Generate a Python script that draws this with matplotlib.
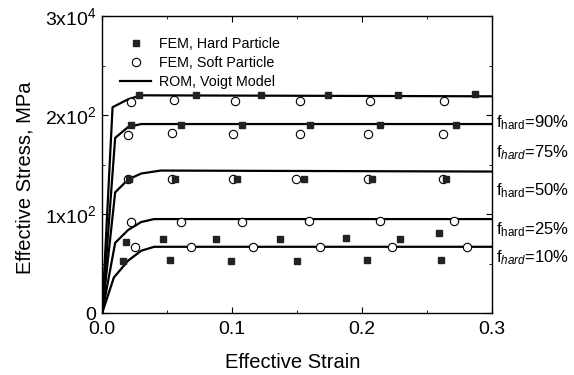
import numpy as np
import matplotlib.pyplot as plt
import matplotlib.transforms as mtransforms

plt.rcParams["font.family"] = ["Liberation Sans", "DejaVu Sans"]
plt.rcParams["mathtext.fontset"] = "custom"
plt.rcParams["mathtext.rm"] = "Liberation Sans"
plt.rcParams["mathtext.it"] = "Liberation Sans:italic"

# ROM (Voigt model) curves, one per hard-particle fraction
rom_strain = {
    "90": [0.0, 0.008, 0.02, 0.03, 0.3],
    "75": [0.0, 0.01, 0.02, 0.03, 0.3],
    "50": [0.0, 0.01, 0.02, 0.03, 0.045, 0.3],
    "25": [0.0, 0.01, 0.02, 0.03, 0.04, 0.3],
    "10": [0.0, 0.009, 0.02, 0.03, 0.04, 0.3],
}
rom_stress = {
    "90": [0, 208, 216, 220, 219],
    "75": [0, 177, 188, 191, 191],
    "50": [0, 122, 135, 141, 144, 143],
    "25": [0, 71, 84, 92, 95, 95],
    "10": [0, 36, 53, 63, 67, 67],
}

# FEM, hard particle
hard_strain = {
    "90": [0.028, 0.072, 0.122, 0.174, 0.228, 0.287],
    "75": [0.022, 0.061, 0.108, 0.160, 0.214, 0.272],
    "50": [0.021, 0.056, 0.104, 0.155, 0.208, 0.265],
    "25": [0.018, 0.047, 0.088, 0.137, 0.188, 0.229, 0.259],
    "10": [0.016, 0.052, 0.099, 0.150, 0.204, 0.261],
}
hard_stress = {
    "90": [220, 220, 220, 220, 220, 221],
    "75": [190, 190, 190, 190, 190, 190],
    "50": [135, 135, 135, 135, 135, 135],
    "25": [72, 75, 75, 75, 76, 75, 81],
    "10": [53, 54, 53, 53, 54, 54],
}

# FEM, soft particle
soft_strain = {
    "90": [0.022, 0.055, 0.102, 0.152, 0.206, 0.263],
    "75": [0.020, 0.054, 0.101, 0.152, 0.205, 0.262],
    "50": [0.020, 0.054, 0.101, 0.149, 0.205, 0.262],
    "25": [0.022, 0.061, 0.108, 0.159, 0.214, 0.271],
    "10": [0.025, 0.068, 0.116, 0.168, 0.223, 0.281],
}
soft_stress = {
    "90": [213, 215, 214, 214, 214, 214],
    "75": [180, 182, 181, 181, 181, 181],
    "50": [135, 135, 135, 135, 135, 135],
    "25": [92, 92, 92, 93, 93, 93],
    "10": [67, 67, 67, 67, 67, 67],
}

fractions = ["90", "75", "50", "25", "10"]
label_y = [192, 162, 124, 84, 56]
italic_sub = {"90": False, "75": True, "50": False, "25": False, "10": True}

fig = plt.figure(figsize=(5.74, 3.75), dpi=100)
ax = fig.add_axes([0.178, 0.165, 0.679, 0.792])

for i, f in enumerate(fractions):
    ax.plot(rom_strain[f], rom_stress[f], color="black", lw=1.6,
            label="ROM, Voigt Model" if i == 0 else None, zorder=2)
    ax.plot(soft_strain[f], soft_stress[f], "o", mfc="white", mec="black",
            mew=0.8, ms=6, label="FEM, Soft Particle" if i == 0 else None, zorder=3)
    ax.plot(hard_strain[f], hard_stress[f], "s", color="#222222",
            ms=4.5, label="FEM, Hard Particle" if i == 0 else None, zorder=4)

ax.set_xlim(0, 0.3)
ax.set_ylim(0, 300)
ax.set_xticks([0.0, 0.1, 0.2, 0.3])
ax.set_xticklabels(["0.0", "0.1", "0.2", "0.3"])
ax.set_xticks([0.05, 0.15, 0.25], minor=True)
ax.set_yticks([0, 100, 200, 300])
ax.set_yticklabels(["0", r"1x10$^2$", r"2x10$^2$", r"3x10$^4$"])
ax.set_yticks([50, 150, 250], minor=True)
ax.tick_params(which="both", direction="in", top=True, right=True, labelsize=14)
ax.tick_params(which="major", length=4)
ax.tick_params(which="minor", length=2)
ax.tick_params(axis="x", pad=6)
ax.tick_params(axis="y", pad=4)
for s in ax.spines.values():
    s.set_linewidth(1.0)

ax.set_xlabel("Effective Strain", fontsize=14.5)
ax.set_ylabel("Effective Stress, MPa", fontsize=14.5)
ax.xaxis.set_label_coords(0.49, -0.165)
ax.xaxis.label.set_va("center")
ax.yaxis.set_label_coords(-0.197, 0.455)
ax.yaxis.label.set_va("center")

handles, labels = ax.get_legend_handles_labels()
order = [2, 1, 0]
ax.legend([handles[k] for k in order], [labels[k] for k in order],
          loc="upper left", bbox_to_anchor=(0.02, 0.965), frameon=False,
          fontsize=10.3, handlelength=2.2, labelspacing=0.38, borderaxespad=0.3,
          handletextpad=0.5)

trans = mtransforms.blended_transform_factory(ax.transAxes, ax.transData)
for f, y in zip(fractions, label_y):
    sub = r"\mathit{hard}" if italic_sub[f] else r"\mathrm{hard}"
    ax.text(1.01, y, r"f$_{%s}$=%s%%" % (sub, f), transform=trans,
            fontsize=12, va="center", ha="left", clip_on=False)

fig.savefig("out.png", dpi=100)
